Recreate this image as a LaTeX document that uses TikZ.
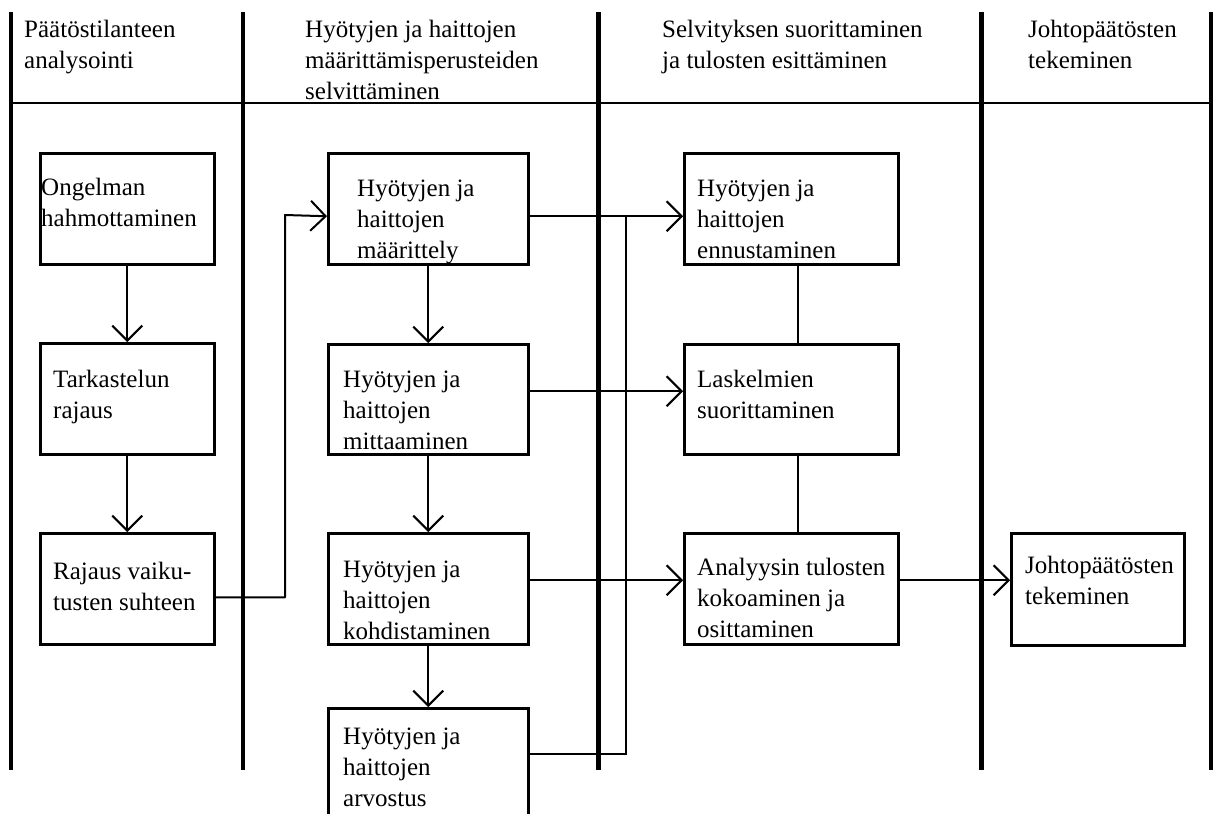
\documentclass[tikz,border=0pt]{standalone}
\usepackage{fontspec}
\setmainfont{Liberation Serif}
\usetikzlibrary{arrows.meta,calc}

\begin{document}
\begin{tikzpicture}[x=1pt,y=-1pt,
  lane/.style={line width=4.5pt},
  rule/.style={line width=2.5pt},
  box/.style={draw, line width=2.5pt, rectangle, inner sep=0pt, anchor=north west},
  % multi-line texts are placed by the baseline of their last line
  txt/.style={anchor=base west, inner sep=0pt, align=left,
              font=\fontsize{25}{31}\selectfont},
  conn/.style={line width=2pt},
  arr/.style={conn, line join=round,
              -{Straight Barb[length=15pt,width=30pt,line width=2pt]}}]

\useasboundingbox (0,0) rectangle (1216,814);
\clip (0,0) rectangle (1216,814);

% lane separators and header rule
\draw[lane] (11,12) -- (11,770);
\draw[lane] (243,12) -- (243,770);
\draw[lane] (598.5,12) -- (598.5,770);
\draw[lane] (981.5,12) -- (981.5,770);
\draw[lane] (1211,12) -- (1211,770);
\draw[rule] (11,103) -- (1211,103);

% lane headings
\node[txt] (h1) at (24,68) {Päätöstilanteen\\analysointi};
\node[txt] (h2) at (305,99) {Hyötyjen ja haittojen\\määrittämisperusteiden\\selvittäminen};
\node[txt] (h3) at (662,68) {Selvityksen suorittaminen\\ja tulosten esittäminen};
\node[txt] (h4) at (1028,68) {Johtopäätösten\\tekeminen};

% boxes
\node[box, minimum width=174pt, minimum height=111pt] (o1) at (39,152) {};
\node[box, minimum width=174pt, minimum height=111pt] (o2) at (39,342) {};
\node[box, minimum width=174pt, minimum height=111pt] (o3) at (39,532) {};
\node[box, minimum width=200pt, minimum height=111pt] (m1) at (327,152) {};
\node[box, minimum width=200pt, minimum height=110pt] (m2) at (327,343) {};
\node[box, minimum width=200pt, minimum height=111pt] (m3) at (327,532) {};
\node[box, minimum width=200pt, minimum height=111pt] (m4) at (327,707) {};
\node[box, minimum width=214pt, minimum height=111pt] (r1) at (683,152) {};
\node[box, minimum width=214pt, minimum height=110pt] (r2) at (683,343) {};
\node[box, minimum width=214pt, minimum height=111pt] (r3) at (683,532) {};
\node[box, minimum width=173pt, minimum height=112pt] (j1) at (1010,532) {};

% box texts
\node[txt] (to1) at (41,226) {Ongelman\\hahmottaminen};
\node[txt] (to2) at (53,418) {Tarkastelun\\rajaus};
\node[txt] (to3) at (53,610) {Rajaus vaiku-\\tusten suhteen};
\node[txt] (tm1) at (357,258) {Hyötyjen ja\\haittojen\\määrittely};
\node[txt] (tm2) at (343,449) {Hyötyjen ja\\haittojen\\mittaaminen};
\node[txt] (tm3) at (343,639) {Hyötyjen ja\\haittojen\\kohdistaminen};
\node[txt] (tm4) at (343,806) {Hyötyjen ja\\haittojen\\arvostus};
\node[txt] (tr1) at (697,258) {Hyötyjen ja\\haittojen\\ennustaminen};
\node[txt] (tr2) at (697,418) {Laskelmien\\suorittaminen};
\node[txt] (tr3) at (697,637) {Analyysin tulosten\\kokoaminen ja\\osittaminen};
\node[txt] (tj1) at (1025,604) {Johtopäätösten\\tekeminen};

% routing points
\coordinate (jog) at (285,215);
\coordinate (merge) at (626,215);

% connectors
\draw[arr] (o1.south) -- (o2.north);
\draw[arr] (o2.south) -- (o3.north);
\draw[arr] ([yshift=-8.5pt]o3.east) -| (jog) -- ([yshift=-7.5pt]m1.west);

\draw[arr] (m1.south) -- (m2.north);
\draw[arr] (m2.south) -- (m3.north);
\draw[arr] (m3.south) -- (m4.north);

\draw[arr] ([yshift=-7.5pt]m1.east) -- ([yshift=-7.5pt]r1.west);
\draw[arr] ([yshift=8pt]m2.east) -- ([yshift=8pt]r2.west);
\draw[arr] ([yshift=8.5pt]m3.east) -- ([yshift=8.5pt]r3.west);
\draw[conn] ([yshift=9.5pt]m4.east) -| (merge);

\draw[conn] ([xshift=7pt]r1.south) -- ([xshift=7pt]r2.north);
\draw[conn] ([xshift=7pt]r2.south) -- ([xshift=7pt]r3.north);

\draw[arr] ([yshift=8.5pt]r3.east) -- ([yshift=9pt]j1.west);
\end{tikzpicture}
\end{document}
